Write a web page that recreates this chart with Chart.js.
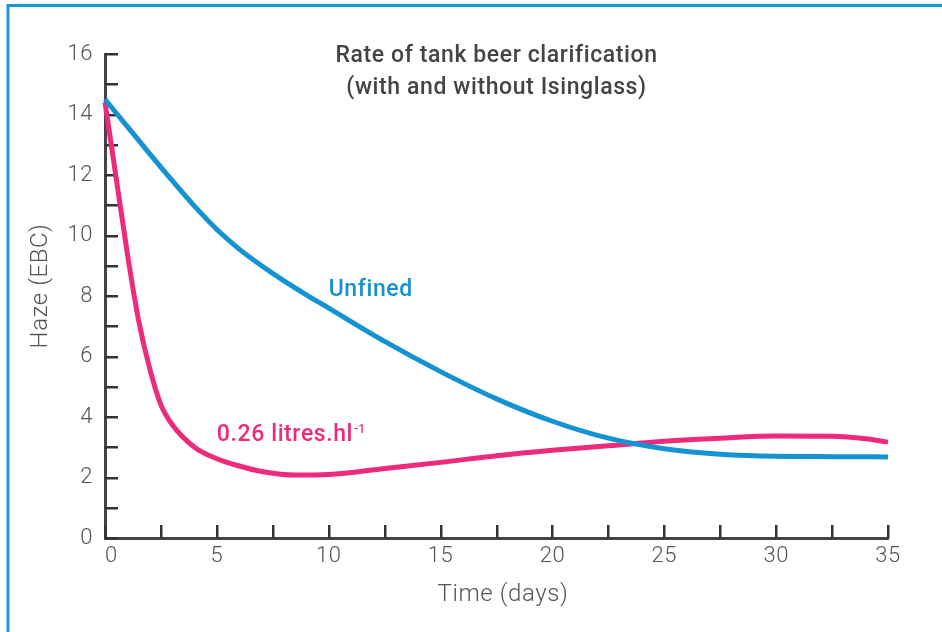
<!DOCTYPE html>
<html>
<head>
<meta charset="utf-8">
<script src="https://cdn.jsdelivr.net/npm/chart.js@4.4.1/dist/chart.umd.min.js"></script>
<style>
  html, body { margin: 0; padding: 0; background: #ffffff; }
  #wrap { position: relative; width: 942px; height: 632px; }
  canvas { display: block; }
</style>
</head>
<body>
<div id="wrap"><canvas id="c" width="942" height="632"></canvas></div>
<script>
// ---- data ----
const chartTitle = ['Rate of tank beer clarification', '(with and without Isinglass)'];
const xAxisTitle = 'Time (days)';
const yAxisTitle = 'Haze (EBC)';

const xTickLabels = [0, 5, 10, 15, 20, 25, 30, 35];
const yTickLabels = [0, 2, 4, 6, 8, 10, 12, 14, 16];

const unfinedLabel = 'Unfined';
const unfinedDays = [0, 1, 2, 3, 4, 5, 6, 7, 8, 9, 10, 12.5, 15, 17.5, 20, 22.5, 25, 27.5, 30, 32.5, 35];
const unfinedHaze = [14.5, 13.6, 12.7, 11.82, 10.97, 10.2, 9.55, 9.0, 8.5, 8.04, 7.6, 6.5, 5.5, 4.6, 3.86, 3.3, 2.95, 2.77, 2.7, 2.69, 2.68];

const finedLabel = '0.26 litres.hl';
const finedLabelSup = '-1';
const finedDays = [0, 0.5, 1, 1.5, 2, 2.5, 3, 4, 5, 6, 7, 8.5, 10, 12.5, 15, 17.5, 20, 22.5, 25, 27.5, 30, 32.5, 34, 35];
const finedHaze = [14.4, 11.9, 9.4, 7.2, 5.6, 4.4, 3.75, 3.0, 2.62, 2.38, 2.2, 2.08, 2.1, 2.3, 2.5, 2.72, 2.9, 3.05, 3.2, 3.3, 3.37, 3.36, 3.28, 3.17];

// label anchor positions in data units
const unfinedLabelAt = { x: 10, y: 8 };
const finedLabelAt = { x: 5, y: 3.2 };

// ---- styles ----
const BLUE = '#1592d2';
const PINK = '#ee2a7b';
const AXIS = '#444444';
const TICKTXT = '#555555';
const FRAME = '#1a95d5';
const FONT = 'Roboto, "Noto Sans", sans-serif';

const toPts = (xs, ys) => xs.map((v, i) => ({ x: v, y: ys[i] }));

const decor = {
  id: 'decor',
  beforeDraw(chart) {
    const ctx = chart.ctx;
    ctx.save();
    ctx.fillStyle = '#ffffff';
    ctx.fillRect(0, 0, chart.width, chart.height);
    ctx.strokeStyle = FRAME;
    ctx.lineWidth = 3;
    ctx.beginPath();
    ctx.moveTo(8, 632); ctx.lineTo(8, 5.5); ctx.lineTo(942, 5.5);
    ctx.stroke();
    ctx.restore();
    try { ctx.letterSpacing = '0.5px'; } catch (e) {}
  },
  beforeDatasetsDraw(chart) {
    const { ctx, chartArea, scales: { x, y } } = chart;
    ctx.save();
    ctx.strokeStyle = '#333333';
    ctx.lineWidth = 2.5;
    y.ticks.forEach(t => {
      const py = Math.round(y.getPixelForValue(t.value)) + 0.25;
      ctx.beginPath(); ctx.moveTo(chartArea.left, py); ctx.lineTo(chartArea.left + 13, py); ctx.stroke();
    });
    x.ticks.forEach(t => {
      const px = Math.round(x.getPixelForValue(t.value)) + 0.25;
      ctx.beginPath(); ctx.moveTo(px, chartArea.bottom); ctx.lineTo(px, chartArea.bottom - 13); ctx.stroke();
    });
    ctx.restore();
  },
  afterDraw(chart) {
    const { ctx, chartArea, scales: { x, y } } = chart;
    ctx.save();
    try { ctx.letterSpacing = '0.6px'; } catch (e) {}
    // title
    ctx.fillStyle = '#444444';
    ctx.font = '500 23px ' + FONT;
    ctx.textAlign = 'center';
    ctx.textBaseline = 'alphabetic';
    const cx = (chartArea.left + chartArea.right) / 2;
    ctx.fillText(chartTitle[0], cx, 61.7);
    ctx.fillText(chartTitle[1], cx, 94.3);

    // axis titles
    ctx.fillStyle = TICKTXT;
    ctx.font = '300 24px ' + FONT;
    ctx.fillText(xAxisTitle, 503, 601);
    ctx.save();
    ctx.translate(46.5, 286);
    ctx.rotate(-Math.PI / 2);
    ctx.fillText(yAxisTitle, 0, 0);
    ctx.restore();

    // series labels
    ctx.textAlign = 'left';
    ctx.font = '500 23px ' + FONT;
    ctx.fillStyle = BLUE;
    ctx.fillText(unfinedLabel, x.getPixelForValue(unfinedLabelAt.x), y.getPixelForValue(unfinedLabelAt.y));
    ctx.fillStyle = PINK;
    const fx = x.getPixelForValue(finedLabelAt.x), fy = y.getPixelForValue(finedLabelAt.y);
    ctx.fillText(finedLabel, fx, fy);
    const w = ctx.measureText(finedLabel).width;
    ctx.font = '500 12px ' + FONT;
    try { ctx.letterSpacing = '0px'; } catch (e) {}
    ctx.fillText(finedLabelSup, fx + w + 1, fy - 8);
    ctx.restore();
  }
};

new Chart(document.getElementById('c'), {
  type: 'line',
  data: {
    datasets: [
      {
        label: 'Unfined',
        data: toPts(unfinedDays, unfinedHaze),
        borderColor: BLUE,
        borderWidth: 5,
        pointRadius: 0,
        cubicInterpolationMode: 'monotone',
        fill: false,
        clip: false
      },
      {
        label: '0.26 litres.hl-1',
        data: toPts(finedDays, finedHaze),
        borderColor: PINK,
        borderWidth: 5,
        pointRadius: 0,
        cubicInterpolationMode: 'monotone',
        fill: false,
        clip: false
      }
    ]
  },
  options: {
    responsive: false,
    animation: false,
    devicePixelRatio: 1,
    layout: { padding: { left: 0, top: 54, right: 54, bottom: 0 } },
    plugins: { legend: { display: false }, title: { display: false }, tooltip: { enabled: false } },
    scales: {
      x: {
        type: 'linear',
        min: 0, max: 35,
        afterFit(s) { s.height = 94; },
        border: { display: true, color: AXIS, width: 3 },
        grid: { drawOnChartArea: false, drawTicks: false },
        ticks: {
          stepSize: 2.5,
          autoSkip: false,
          maxRotation: 0,
          padding: 5,
          color: TICKTXT,
          font: { family: FONT, size: 22, weight: 300 },
          callback: (v) => xTickLabels.includes(v) ? (v === 0 ? '\u2007' + v : String(v)) : ''
        }
      },
      y: {
        type: 'linear',
        min: 0, max: 16,
        afterFit(s) { s.width = 105; },
        border: { display: true, color: AXIS, width: 3 },
        grid: { drawOnChartArea: false, drawTicks: false },
        ticks: {
          stepSize: 1,
          autoSkip: false,
          padding: 12,
          color: TICKTXT,
          font: { family: FONT, size: 22, weight: 300 },
          callback: (v) => yTickLabels.includes(v) ? String(v) : ''
        }
      }
    }
  },
  plugins: [decor]
});
</script>
</body>
</html>
